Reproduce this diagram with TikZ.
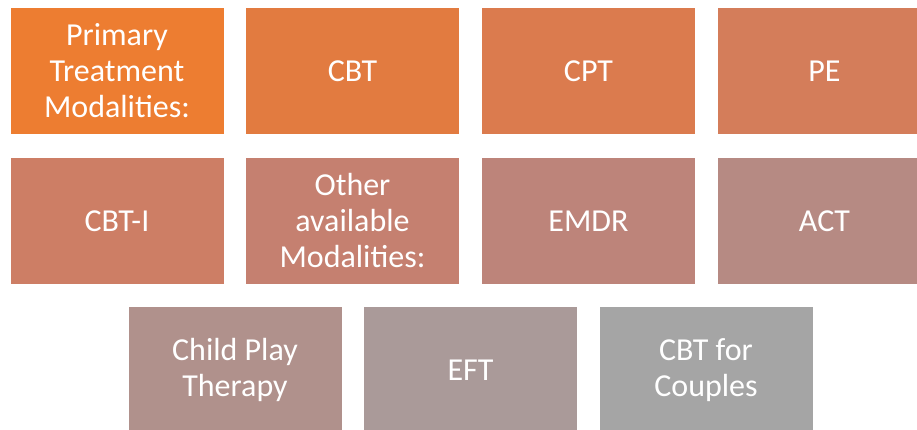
\documentclass[tikz,border=0pt]{standalone}
\usepackage{fontspec}
\setmainfont{Carlito}
\definecolor{tint0}{RGB}{237,125,49}
\definecolor{tint1}{RGB}{226,123,64}
\definecolor{tint2}{RGB}{219,123,78}
\definecolor{tint3}{RGB}{212,125,90}
\definecolor{tint4}{RGB}{205,126,101}
\definecolor{tint5}{RGB}{197,128,112}
\definecolor{tint6}{RGB}{189,132,122}
\definecolor{tint7}{RGB}{182,138,131}
\definecolor{tint8}{RGB}{176,145,140}
\definecolor{tint9}{RGB}{170,154,153}
\definecolor{tint10}{RGB}{165,165,165}
\begin{document}
\begin{tikzpicture}[x=1pt,y=-1pt,font=\fontsize{32}{36}\selectfont,
  tile/.style={fill=tint#1,text=white,align=center,inner sep=0pt,
    minimum width=213pt,minimum height=126pt}]
\clip (0,0) rectangle (917,430);
\fill[white] (0,0) rectangle (917,430);

\node[tile=0] (prim) at (117,71) {Primary\\Treatment\\Modalities:};
\node[tile=1] (cbt) at (352.5,71) {CBT};
\node[tile=2] (cpt) at (588.5,71) {CPT};
\node[tile=3] (pe) at (824.5,71) {PE};

\node[tile=4] (cbti) at (117,221) {CBT-I};
\node[tile=5] (other) at (352.5,221) {Other\\available\\Modalities:};
\node[tile=6] (emdr) at (588.5,221) {EMDR};
\node[tile=7] (act) at (824.5,221) {ACT};

\node[tile=8] (play) at (235,370) {Child Play\\Therapy};
\node[tile=9] (eft) at (470.5,370) {EFT};
\node[tile=10] (couples) at (706,370) {CBT for\\Couples};

\end{tikzpicture}
\end{document}
